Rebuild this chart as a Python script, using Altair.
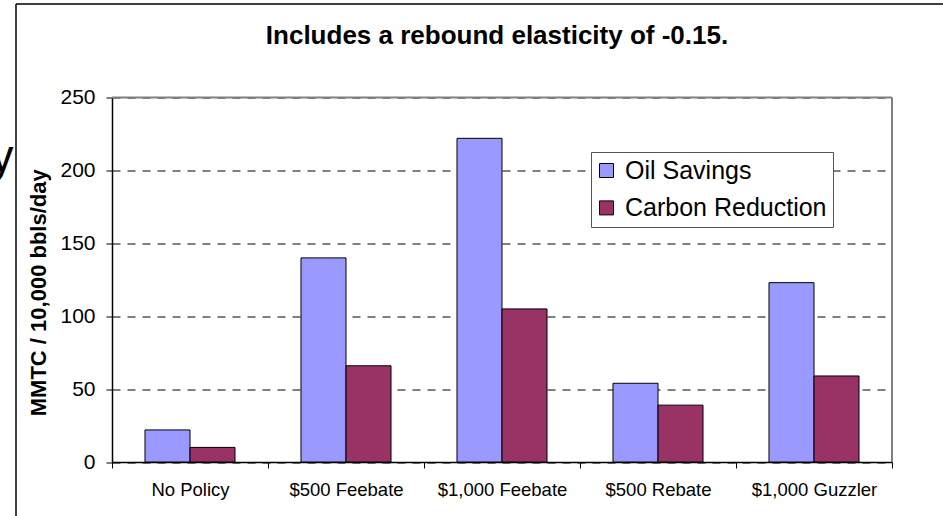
import altair as alt
import pandas as pd

# Policy scenarios along the x axis
categories = ["No Policy", "$500 Feebate", "$1,000 Feebate", "$500 Rebate", "$1,000 Guzzler"]
series = ["Oil Savings", "Carbon Reduction"]

# Values per scenario (MMTC / 10,000 bbls/day)
oil_savings = [22, 140, 222, 54, 123]
carbon_reduction = [10, 66, 105, 39, 59]

y_ticks = [0, 50, 100, 150, 200, 250]
colors = ["#9999FF", "#993366"]

title_text = "Includes a rebound elasticity of -0.15."
FONT = "Liberation Sans"

rows = []
for cat, o, c in zip(categories, oil_savings, carbon_reduction):
    rows.append({"policy": cat, "series": series[0], "value": o})
    rows.append({"policy": cat, "series": series[1], "value": c})
df = pd.DataFrame(rows)

W, H = 780, 364.5
PAD = {"left": 112, "top": 97.5, "right": 51, "bottom": 54}
FULL_W = PAD["left"] + W + PAD["right"]
FULL_H = PAD["top"] + H + PAD["bottom"]

bars = alt.Chart(df).mark_bar(stroke="black", strokeWidth=1).encode(
    x=alt.X(
        "policy:N",
        sort=categories,
        scale=alt.Scale(paddingInner=0, paddingOuter=0),
        axis=alt.Axis(
            title=None,
            labelAngle=0,
            labelFont=FONT,
            labelFontSize=18.5,
            labelColor="black",
            labelPadding=12,
            tickBand="extent",
            tickSize=6,
            tickColor="black",
            tickWidth=1,
            domainColor="black",
            domainWidth=1.5,
            grid=False,
        ),
    ),
    xOffset=alt.XOffset(
        "series:N", sort=series, scale=alt.Scale(paddingInner=0, paddingOuter=0.733)
    ),
    y=alt.Y(
        "value:Q",
        scale=alt.Scale(domain=[0, 250], nice=False),
        axis=alt.Axis(
            values=y_ticks,
            title="MMTC / 10,000 bbls/day",
            titleFont=FONT,
            titleFontSize=22,
            titleFontWeight="bold",
            titleColor="black",
            titleX=-67,
            titleY=H / 2 + 12.5,
            titleBaseline="alphabetic",
            labelFont=FONT,
            labelFontSize=21,
            labelColor="black",
            labelPadding=11,
            tickSize=6,
            tickColor="black",
            tickWidth=1,
            domainColor="black",
            domainWidth=1.5,
            grid=True,
            gridColor="black",
            gridWidth=1,
            gridDash=[8, 7],
        ),
    ),
    color=alt.Color(
        "series:N",
        sort=series,
        scale=alt.Scale(domain=series, range=colors),
        legend=alt.Legend(
            title=None,
            orient="none",
            legendX=479,
            legendY=54.5,
            fillColor="white",
            strokeColor="#555555",
            padding=6,
            symbolType="square",
            symbolSize=196,
            symbolStrokeColor="black",
            symbolStrokeWidth=1,
            symbolOpacity=1,
            symbolOffset=-3,
            labelFont=FONT,
            labelFontSize=25,
            labelColor="black",
            labelOffset=6,
            labelLimit=400,
            rowPadding=11.4,
        ),
    ),
)

one = pd.DataFrame({"k": [0]})

# Gray frame on the top and right sides of the plot area
top_rule = alt.Chart(one).mark_rule(color="#808080", strokeWidth=2).encode(
    x=alt.value(0), x2=alt.value(W), y=alt.datum(250)
)
right_rule = alt.Chart(one).mark_rule(color="#808080", strokeWidth=2).encode(
    x=alt.value(W), y=alt.datum(0), y2=alt.datum(250)
)

# Chart title, centred over the plot
title = alt.Chart(one).mark_text(
    text=title_text, font=FONT, fontSize=26, fontWeight="bold",
    align="center", baseline="alphabetic", color="black"
).encode(x=alt.value(W / 2 - 5), y=alt.value(-53.5))

# Outer border of the chart object (top and left edges, running to the page edges)
border_top = alt.Chart(one).mark_rule(color="black", strokeWidth=1.5).encode(
    x=alt.value(-96), x2=alt.value(FULL_W - PAD["left"]), y=alt.value(-93.5)
)
border_left = alt.Chart(one).mark_rule(color="black", strokeWidth=1.5).encode(
    x=alt.value(-96), y=alt.value(-93.5), y2=alt.value(FULL_H - PAD["top"])
)

# Edge of the slide heading that sits left of the chart
heading_tail = alt.Chart(one).mark_text(
    text="y", font=FONT, fontSize=46, align="right", baseline="alphabetic", color="black"
).encode(x=alt.value(-98.5), y=alt.value(74.5))

chart = alt.layer(
    border_top, border_left, heading_tail, title, bars, top_rule, right_rule
).properties(
    width=W,
    height=H,
    padding=PAD,
    autosize=alt.AutoSizeParams(type="none"),
    background="white",
).configure_view(stroke="transparent")

chart.save("out.html", embed_options={"renderer": "svg", "actions": False})
